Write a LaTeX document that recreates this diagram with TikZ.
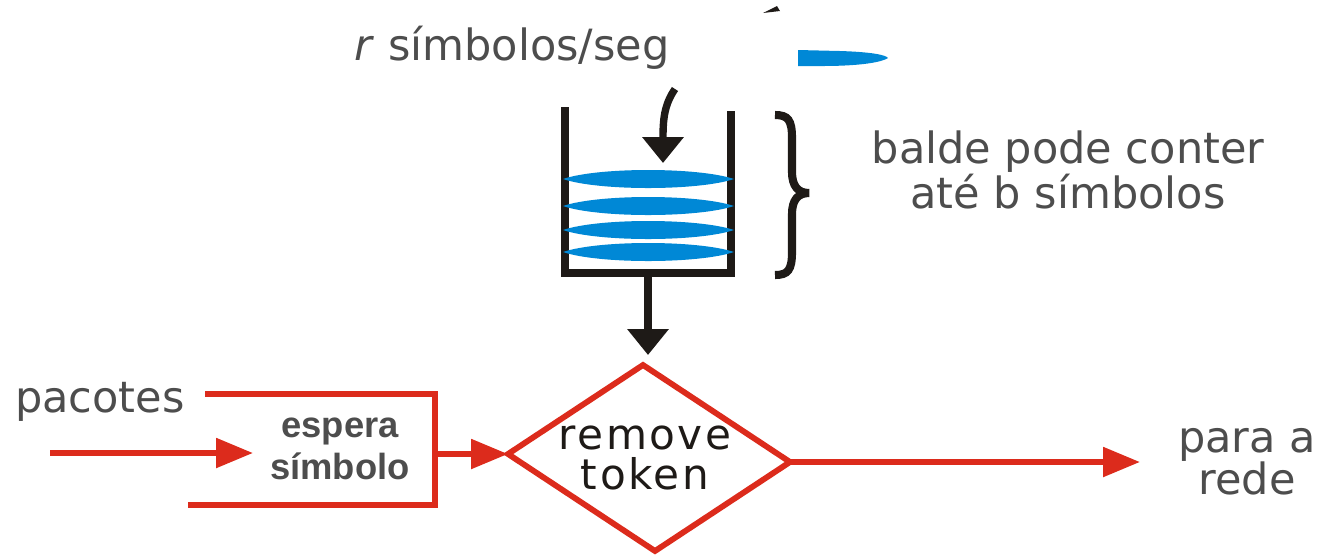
\documentclass[tikz,border=0pt]{standalone}
\usepackage{fontspec}
\setmainfont{DejaVu Sans}
\newfontfamily\lsans{Liberation Sans}
\newfontfamily\gothic[LetterSpace=6]{DejaVu Sans}
\usetikzlibrary{arrows.meta}
\definecolor{tkred}{HTML}{DC2B1C}
\definecolor{tkblue}{HTML}{0088D6}
\definecolor{txtgray}{HTML}{4D4D4D}
\definecolor{ink}{HTML}{1E1A17}
\begin{document}
\begin{tikzpicture}[x=0.02cm,y=-0.02cm,
  blk/.style={line width=4.2pt, draw=ink},
  blkarrow/.style={blk, -{Triangle[length=14.7pt,width=22.7pt]}},
  redline/.style={line width=3.3pt, draw=tkred},
  redarrow/.style={redline, -{Triangle[length=21pt,width=16.4pt]}},
  comictext/.style={font=\fontsize{24.5}{24}\selectfont, text=txtgray, align=center, inner sep=0pt},
  boxtext/.style={font=\lsans\bfseries\fontsize{20.7}{24}\selectfont, text=txtgray, align=center, inner sep=0pt},
  difftext/.style={font=\gothic\fontsize{24}{22.7}\selectfont, text=ink, align=center, inner sep=0pt},
  token/.style={fill=tkblue}
]
\useasboundingbox (0,0) rectangle (1320,556);

% title
\node[comictext, anchor=base] (rate) at (512,60) {\textit{r} símbolos/seg};

% small black mark at top
\fill[ink] (763,13) -- (777,6) -- (780,11) -- cycle;

% falling token
\fill[token] (798,50) -- (840,51) .. controls (872,52) and (886,55) .. (888,58)
  .. controls (882,62) and (862,66) .. (822,66) -- (798,66) -- cycle;

% curved arrow into bucket
\coordinate (cs) at (675,89);
\coordinate (ce) at (663,163);
\draw[blkarrow] (cs) .. controls (664,105) and (663,120) .. (ce);

% bucket
\coordinate (bl) at (565,107);
\coordinate (br) at (731,111);
\coordinate (bb) at (648,273);
\draw[blk] (bl) -- (565,273) -- (731,273) -- (br);

% tokens in bucket
\foreach \yy in {179,206,230,252}
  \fill[token] (563,\yy) .. controls (598,{\yy-12}) and (698,{\yy-12}) .. (734,\yy)
    .. controls (698,{\yy+12}) and (598,{\yy+12}) .. (563,\yy) -- cycle;

% brace
\draw[line width=4.6pt, draw=ink] (775,115) .. controls (788,115) and (792,120) .. (792,138)
  -- (792,172) .. controls (792,186) and (798,193) .. (809,193)
  .. controls (798,193) and (792,200) .. (792,214)
  -- (792,252) .. controls (792,270) and (788,275) .. (775,275);

\node[comictext] (cap) at (1068,170) {balde pode conter\\até b símbolos};

% diamond
\coordinate (dtop) at (643,365);
\coordinate (dright) at (790,462);
\coordinate (dbot) at (655,551);
\coordinate (dleft) at (508,454);
\draw[redline] (dtop) -- (dright) -- (dbot) -- (dleft) -- cycle;
\node[difftext] (rt) at (645,458) {remove\\token};

% bucket to diamond
\draw[blkarrow, shorten >=5.7pt] (bb) -- (bb |- dtop);

% left part
\node[comictext, anchor=base] (pac) at (100,412) {pacotes};
\coordinate (tl) at (205,394);
\coordinate (tr) at (435,394);
\coordinate (brr) at (435,505);
\coordinate (bll) at (188,505);
\draw[redline] (tl) -- (tr) -- (brr) -- (bll);
\node[boxtext] (esp) at (340,449) {espera\\símbolo};
\coordinate (inL) at (50,453);
\coordinate (inT) at (253,453);
\draw[redarrow] (inL) -- (inT);
\coordinate (boxout) at (435,454);
\draw[redarrow] (boxout) -- (dleft);

% output
\coordinate (outT) at (1140,462);
\draw[redarrow] (dright) -- (outT);
\node[comictext] (rede) at (1247,462) {para a\\rede};
\end{tikzpicture}
\end{document}
